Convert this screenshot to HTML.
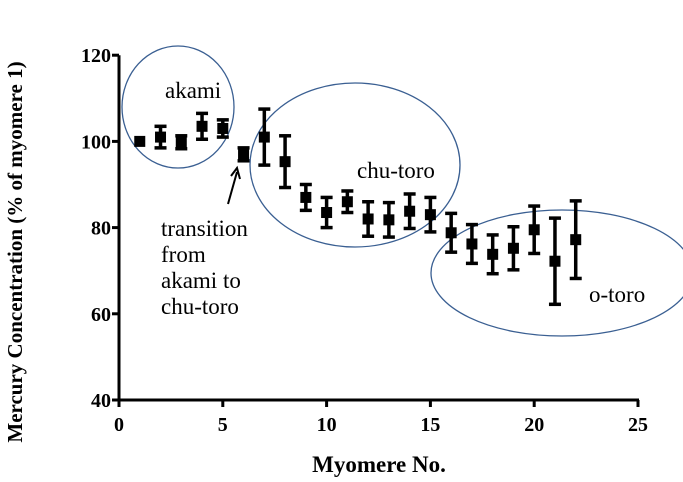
<!DOCTYPE html>
<html><head><meta charset="utf-8"><style>body{margin:0;background:#fff}svg{display:block}text{font-family:"Liberation Serif",serif}</style></head>
<body>
<svg id="chart" width="683" height="482">
<ellipse cx="178" cy="107" rx="56" ry="61" fill="none" stroke="#3a5f92" stroke-width="1.3"/>
<ellipse cx="355" cy="165" rx="105" ry="82" fill="none" stroke="#3a5f92" stroke-width="1.3"/>
<ellipse cx="562" cy="273" rx="131" ry="63" fill="none" stroke="#3a5f92" stroke-width="1.3"/>
<g id="axes"></g>
<g id="marks"></g>
<text x="165" y="98" font-size="23">akami</text>
<text x="357" y="178" font-size="23">chu-toro</text>
<text x="589" y="302" font-size="23">o-toro</text>
<g font-size="23">
<text x="161" y="236">transition</text><text x="161" y="262">from</text><text x="161" y="288">akami to</text><text x="161" y="314">chu-toro</text></g>
<line x1="228" y1="204" x2="237" y2="172" stroke="#000" stroke-width="2"/>
<path d="M231,176 L237,168 L240,179" fill="none" stroke="#000" stroke-width="2"/>
<text x="379" y="472" font-size="23" font-weight="bold" text-anchor="middle">Myomere No.</text>
<text transform="translate(22,252) rotate(-90)" font-size="21" font-weight="bold" text-anchor="middle">Mercury Concentration (% of myomere 1)</text>
</svg>
<script>
const myomeres=[1,2,3,4,5,6,7,8,9,10,11,12,13,14,15,16,17,18,19,20,21,22];
const means=[100,101,99.8,103.5,103,97,101,95.3,87,83.5,86,82,81.8,83.8,83,78.8,76.2,73.8,75.2,79.5,72.2,77.2];
const errors=[0,2.5,1.5,3,2,1.5,6.5,6,3,3.5,2.5,4,4,4,4,4.5,4.5,4.5,5,5.5,10,9];
const xTicks=[0,5,10,15,20,25];
const yTicks=[40,60,80,100,120];
const X=v=>119+v*20.76, Y=v=>400-(v-40)*4.31;
const NS="http://www.w3.org/2000/svg";
function mk(p,t,a){const e=document.createElementNS(NS,t);for(const k in a)e.setAttribute(k,a[k]);p.appendChild(e);return e;}
const ax=document.getElementById('axes'),mg=document.getElementById('marks');
let l=mk(ax,'line',{x1:X(0),y1:Y(40),x2:X(25)+1,y2:Y(40),stroke:'#000','stroke-width':3});


l=mk(ax,'line',{x1:X(0),y1:Y(120),x2:X(0),y2:Y(40)+1.5,stroke:'#000','stroke-width':3});


xTicks.forEach(t=>{mk(ax,'line',{x1:X(t),y1:Y(40),x2:X(t),y2:Y(40)+7,stroke:'#000','stroke-width':3});
const tx=mk(ax,'text',{x:X(t),y:Y(40)+31,'font-size':20,'font-weight':'bold','text-anchor':'middle'});tx.textContent=t;

});
yTicks.forEach(t=>{mk(ax,'line',{x1:X(0)-7,y1:Y(t),x2:X(0),y2:Y(t),stroke:'#000','stroke-width':3});
const tx=mk(ax,'text',{x:X(0)-8,y:Y(t)+7,'font-size':20,'font-weight':'bold','text-anchor':'end'});tx.textContent=t;

});
myomeres.forEach((m,i)=>{const g=mk(mg,'g',{});


const x=X(m),y=Y(means[i]),e=errors[i];
if(e>0){const y1=Y(means[i]+e),y2=Y(means[i]-e);
mk(g,'line',{x1:x,y1:y1,x2:x,y2:y2,stroke:'#000','stroke-width':3.5});
mk(g,'line',{x1:x-6,y1:y1,x2:x+6,y2:y1,stroke:'#000','stroke-width':3.5});
mk(g,'line',{x1:x-6,y1:y2,x2:x+6,y2:y2,stroke:'#000','stroke-width':3.5});}
mk(g,'rect',{x:x-5.5,y:y-5.5,width:11,height:11,fill:'#000'});});
</script>
</body></html>
